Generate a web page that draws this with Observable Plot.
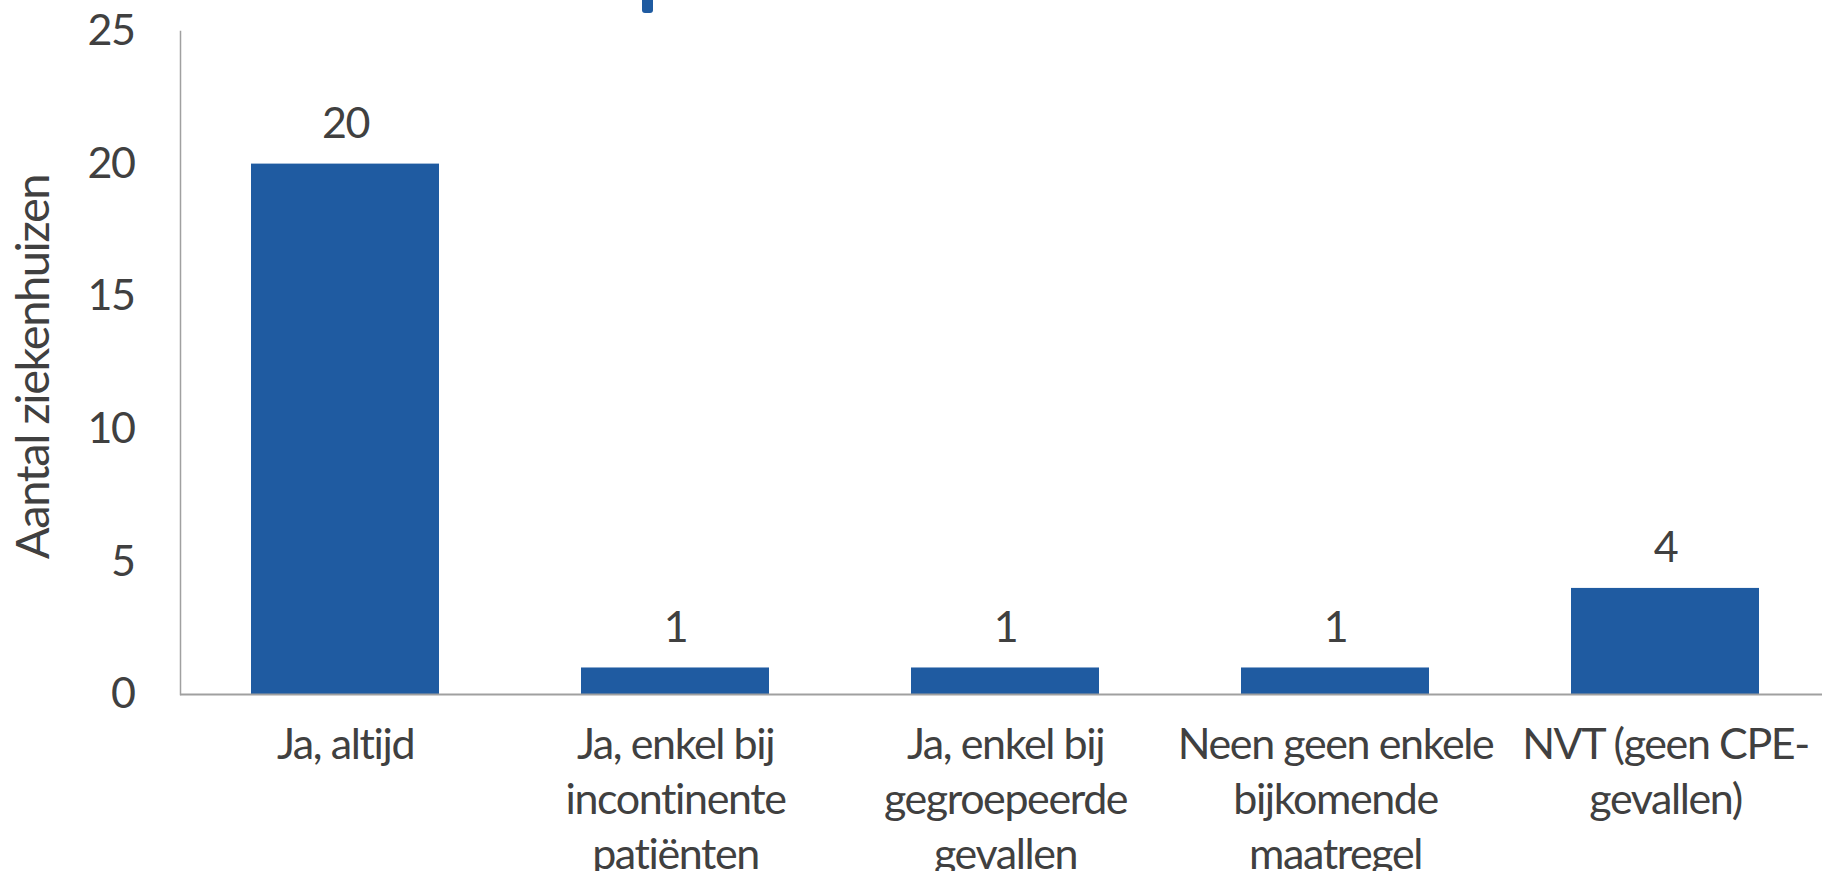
<!DOCTYPE html>
<html>
<head>
<meta charset="utf-8">
<script src="https://cdn.jsdelivr.net/npm/d3@7"></script>
<script src="https://cdn.jsdelivr.net/npm/@observablehq/plot@0.6"></script>
<style>
  html, body { margin: 0; padding: 0; background: #fff; overflow: hidden; }
  #wrap { position: relative; width: 1822px; height: 871px; }
  #stub { position: absolute; left: 642px; top: 0; width: 11px; height: 13px; background: #1f5ba1; border-radius: 0 0 3px 3px; }
</style>
</head>
<body>
<div id="wrap"><div id="stub"></div></div>
<script>
const categories = [
  "Ja, altijd",
  "Ja, enkel bij incontinente patiënten",
  "Ja, enkel bij gegroepeerde gevallen",
  "Neen geen enkele bijkomende maatregel",
  "NVT (geen CPE-gevallen)"
];
const tickLabels = [
  "Ja, altijd",
  "Ja, enkel bij\nincontinente\npatiënten",
  "Ja, enkel bij\ngegroepeerde\ngevallen",
  "Neen geen enkele\nbijkomende\nmaatregel",
  "NVT (geen CPE-\ngevallen)"
];
const values = [20, 1, 1, 1, 4];
const yTicks = [0, 5, 10, 15, 20, 25];
const yLabel = "Aantal ziekenhuizen";

const data = categories.map((c, i) => ({category: c, value: values[i]}));
const FONT = "Lato, 'Open Sans', sans-serif";
const TEXT = "#404040";
const FS = 43;

const chart = Plot.plot({
  width: 1822,
  height: 871,
  marginTop: 31,
  marginBottom: 177,
  marginLeft: 180,
  marginRight: -8,
  style: {fontFamily: FONT, color: TEXT, background: "transparent"},
  x: {domain: categories, paddingInner: 0.43, paddingOuter: 0.215, align: 0.5, label: null},
  y: {domain: [0, 25], label: null},
  marks: [
    Plot.barY(data, {x: "category", y: "value", fill: "#1f5ba1"}),
    Plot.frame({anchor: "left", stroke: "#a0a0a0", strokeWidth: 1.5}),
    Plot.ruleY([0], {stroke: "#a0a0a0", strokeWidth: 2}),
    Plot.text(data, {x: "category", y: "value", text: d => String(d.value), dy: -40, fontSize: FS, fill: TEXT, fontFamily: FONT}),
    Plot.axisY({ticks: yTicks, tickSize: 0, tickPadding: 46, fontSize: FS, label: null, fill: TEXT}),
    Plot.axisX({tickSize: 0, tickPadding: 0, fontSize: FS, fill: TEXT, label: null, dy: 25, lineHeight: 1.28,
      tickFormat: (d) => tickLabels[categories.indexOf(d)], textAnchor: "middle", lineAnchor: "top"}),
    Plot.text([yLabel], {frameAnchor: "left", textAnchor: "middle", dx: -147, dy: 4, rotate: -90, fontSize: 47, fill: TEXT, fontFamily: FONT, ariaLabel: "ylabel"})
  ]
});
d3.select(chart).selectAll("text").style("letter-spacing", "-1.4px");
d3.select(chart).selectAll("g[aria-label='ylabel'] text").style("letter-spacing", "0px");
document.getElementById("wrap").appendChild(chart);
chart.style.position = "absolute";
chart.style.left = "0";
chart.style.top = "0";
</script>
</body>
</html>
